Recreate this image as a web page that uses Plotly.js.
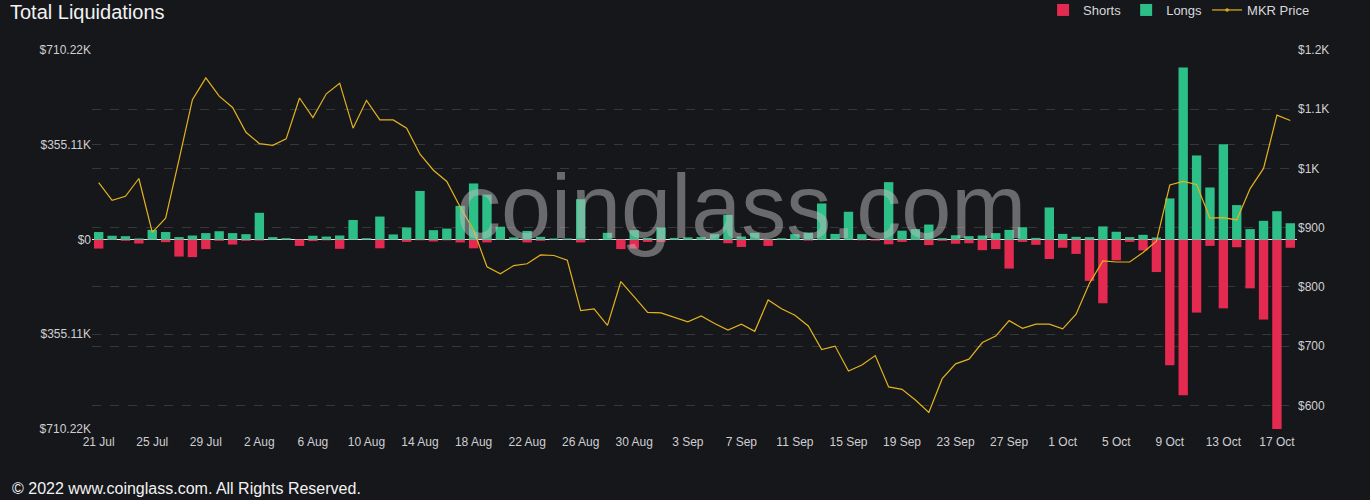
<!DOCTYPE html>
<html>
<head>
<meta charset="utf-8">
<script src="https://cdn.plot.ly/plotly-3.0.1.min.js"></script>
<style>
html,body{margin:0;padding:0;background:#16171b;}
#chart{width:1370px;height:500px;}
</style>
</head>
<body>
<div id="chart"></div>
<script>
// Dates (21 Jul – 18 Oct 2022)
const dates = [
  "21 Jul","22 Jul","23 Jul","24 Jul","25 Jul","26 Jul","27 Jul","28 Jul","29 Jul","30 Jul","31 Jul",
  "1 Aug","2 Aug","3 Aug","4 Aug","5 Aug","6 Aug","7 Aug","8 Aug","9 Aug","10 Aug","11 Aug","12 Aug","13 Aug","14 Aug","15 Aug","16 Aug","17 Aug","18 Aug","19 Aug","20 Aug","21 Aug","22 Aug","23 Aug","24 Aug","25 Aug","26 Aug","27 Aug","28 Aug","29 Aug","30 Aug","31 Aug",
  "1 Sep","2 Sep","3 Sep","4 Sep","5 Sep","6 Sep","7 Sep","8 Sep","9 Sep","10 Sep","11 Sep","12 Sep","13 Sep","14 Sep","15 Sep","16 Sep","17 Sep","18 Sep","19 Sep","20 Sep","21 Sep","22 Sep","23 Sep","24 Sep","25 Sep","26 Sep","27 Sep","28 Sep","29 Sep","30 Sep",
  "1 Oct","2 Oct","3 Oct","4 Oct","5 Oct","6 Oct","7 Oct","8 Oct","9 Oct","10 Oct","11 Oct","12 Oct","13 Oct","14 Oct","15 Oct","16 Oct","17 Oct","18 Oct"
];

// Long liquidations (USD thousands)
const longsK = [
  28,14,12.5,4,36,28,9,15,24,31,24,20,100,9,5,1,14,11,15,73,5,86,19,45,182,35,41,126,210,168,
  48,8,32,10,4,4,151,2,25,1,35,6,45,6,8,9,20,92,11,25,3,5,20,26,135,21,104,20,1,215,
  33,39,56,5,16,12.5,15,24,36,46,6,120,21,10,9,49,29,9,17.5,7.5,154,645,315,195,357,129,39,70,106,61
];

// Short liquidations (USD thousands)
const shortsK = [
  34,2,5,15,1,10,64,66,36,5,19,5,4,1,1,24,6,3,35,1,1,33,1,9,3,7.5,3,11,33,11,
  2,1,11,5,1,1,11,2,1,36,34,9,9,1,1,1,1,14,28,2,24,1,1,4,1,1,1,3,4,18,
  9,2,21,5,16,14,40,36,109,9,20,73,31,54,155,239,78,9,41,122,471,584,274,24,258,29,183,300,710.22,31
];

// MKR price (USD)
const price = [
  976,946,953,983,892,916,1015,1116,1153,1122,1103,1061,1042,1039,1050,1119,1086,1126,1144,1068,1115,1082,1082,1068,1024,997,978,935,896,834,
  822,836,839,854,853,845,760,763,735,809,783,757,756,748,741,751,738,727,737,725,778,763,752,734,694,700,658,668,684,631,
  627,609,588,645,670,678,706,717,743,730,737,737,729,754,806,844,842,842,858,877,972,978,973,916,917,913,966,1000,1090,1081
];

// Axis ticks
const leftTickVals = [710220, 355110, 0, -355110, -710220];
const leftTickText = ["$710.22K", "$355.11K", "$0", "$355.11K", "$710.22K"];
const rightTickVals = [600, 700, 800, 900, 1000, 1100, 1200];
const rightTickText = ["$600", "$700", "$800", "$900", "$1K", "$1.1K", "$1.2K"];
const xTickVals = dates.filter((d, i) => i % 4 === 0);

const longs = longsK.map(v => v * 1000);
const shorts = shortsK.map(v => -v * 1000);

const RED = '#e42a50';
const GREEN = '#2dbf88';
const GOLD = '#e3b21e';
const GRID = 'rgba(255,255,255,0.14)';
const TXT = '#cfcfd2';
const FONT = 'Liberation Sans, Arial, sans-serif';

const traces = [
  {type:'bar', name:'Shorts', x:dates, y:shorts, marker:{color:RED, line:{width:0}}, width:0.7, yaxis:'y', hoverinfo:'skip'},
  {type:'bar', name:'Longs', x:dates, y:longs, marker:{color:GREEN, line:{width:0}}, width:0.7, yaxis:'y', hoverinfo:'skip'},
  {type:'scatter', mode:'lines+markers', name:'MKR Price', x:dates, y:price, yaxis:'y2',
   line:{color:GOLD, width:1.2}, marker:{size:0.001, color:'#16171b', line:{color:GOLD, width:1.5}}, hoverinfo:'skip'}
];

const layout = {
  width:1370, height:500,
  margin:{l:92, r:73, t:50, b:71, pad:0, autoexpand:false},
  paper_bgcolor:'#16171b', plot_bgcolor:'#16171b',
  font:{family:FONT, color:TXT, size:12},
  barmode:'relative',
  bargap:0.3,
  showlegend:true,
  title:{text:'Total Liquidations', xref:'container', yref:'container', x:10/1370, xanchor:'left', y:1-12/500, yanchor:'middle',
         font:{family:FONT, size:20, color:'#f2f2f2'}},
  legend:{orientation:'h', x:1.015, xanchor:'right', y:(429-10)/379, yanchor:'middle', font:{size:13, color:'#d8d8da'},
          bgcolor:'rgba(0,0,0,0)', itemwidth:30, traceorder:'normal'},
  xaxis:{type:'category', range:[-0.5, dates.length-0.5], tickvals:xTickVals, ticks:'', showgrid:false, zeroline:false,
         showline:false, tickfont:{size:12, color:TXT}, ticklabelstandoff:4, fixedrange:true},
  yaxis:{range:[-710220, 710220], tickvals:leftTickVals, ticktext:leftTickText, ticks:'', showgrid:true, gridcolor:GRID,
         griddash:'dash', gridwidth:1, zeroline:true, zerolinecolor:'#e8e8e8', zerolinewidth:1.5, showline:false,
         tickfont:{size:12, color:TXT}, fixedrange:true},
  yaxis2:{overlaying:'y', side:'right', range:[560, 1200], tickvals:rightTickVals, ticktext:rightTickText, ticks:'',
          showgrid:true, gridcolor:GRID, griddash:'dash', gridwidth:1, zeroline:false, showline:false,
          tickfont:{size:12, color:TXT}, fixedrange:true},
  annotations:[
    {text:'coinglass.com', xref:'paper', yref:'paper', x:(741-92)/1205, y:(429-207)/379, xanchor:'center', yanchor:'middle',
     showarrow:false, font:{family:FONT, size:90, color:'rgba(190,190,190,0.5)'}},
    {text:'© 2022 www.coinglass.com. All Rights Reserved.', xref:'paper', yref:'paper', x:(10-92)/1205, y:(429-488)/379,
     xanchor:'left', yanchor:'middle', showarrow:false, font:{family:FONT, size:16, color:'#f2f2f2'}}
  ]
};

Plotly.newPlot('chart', traces, layout, {displayModeBar:false, staticPlot:true});
</script>
</body>
</html>
